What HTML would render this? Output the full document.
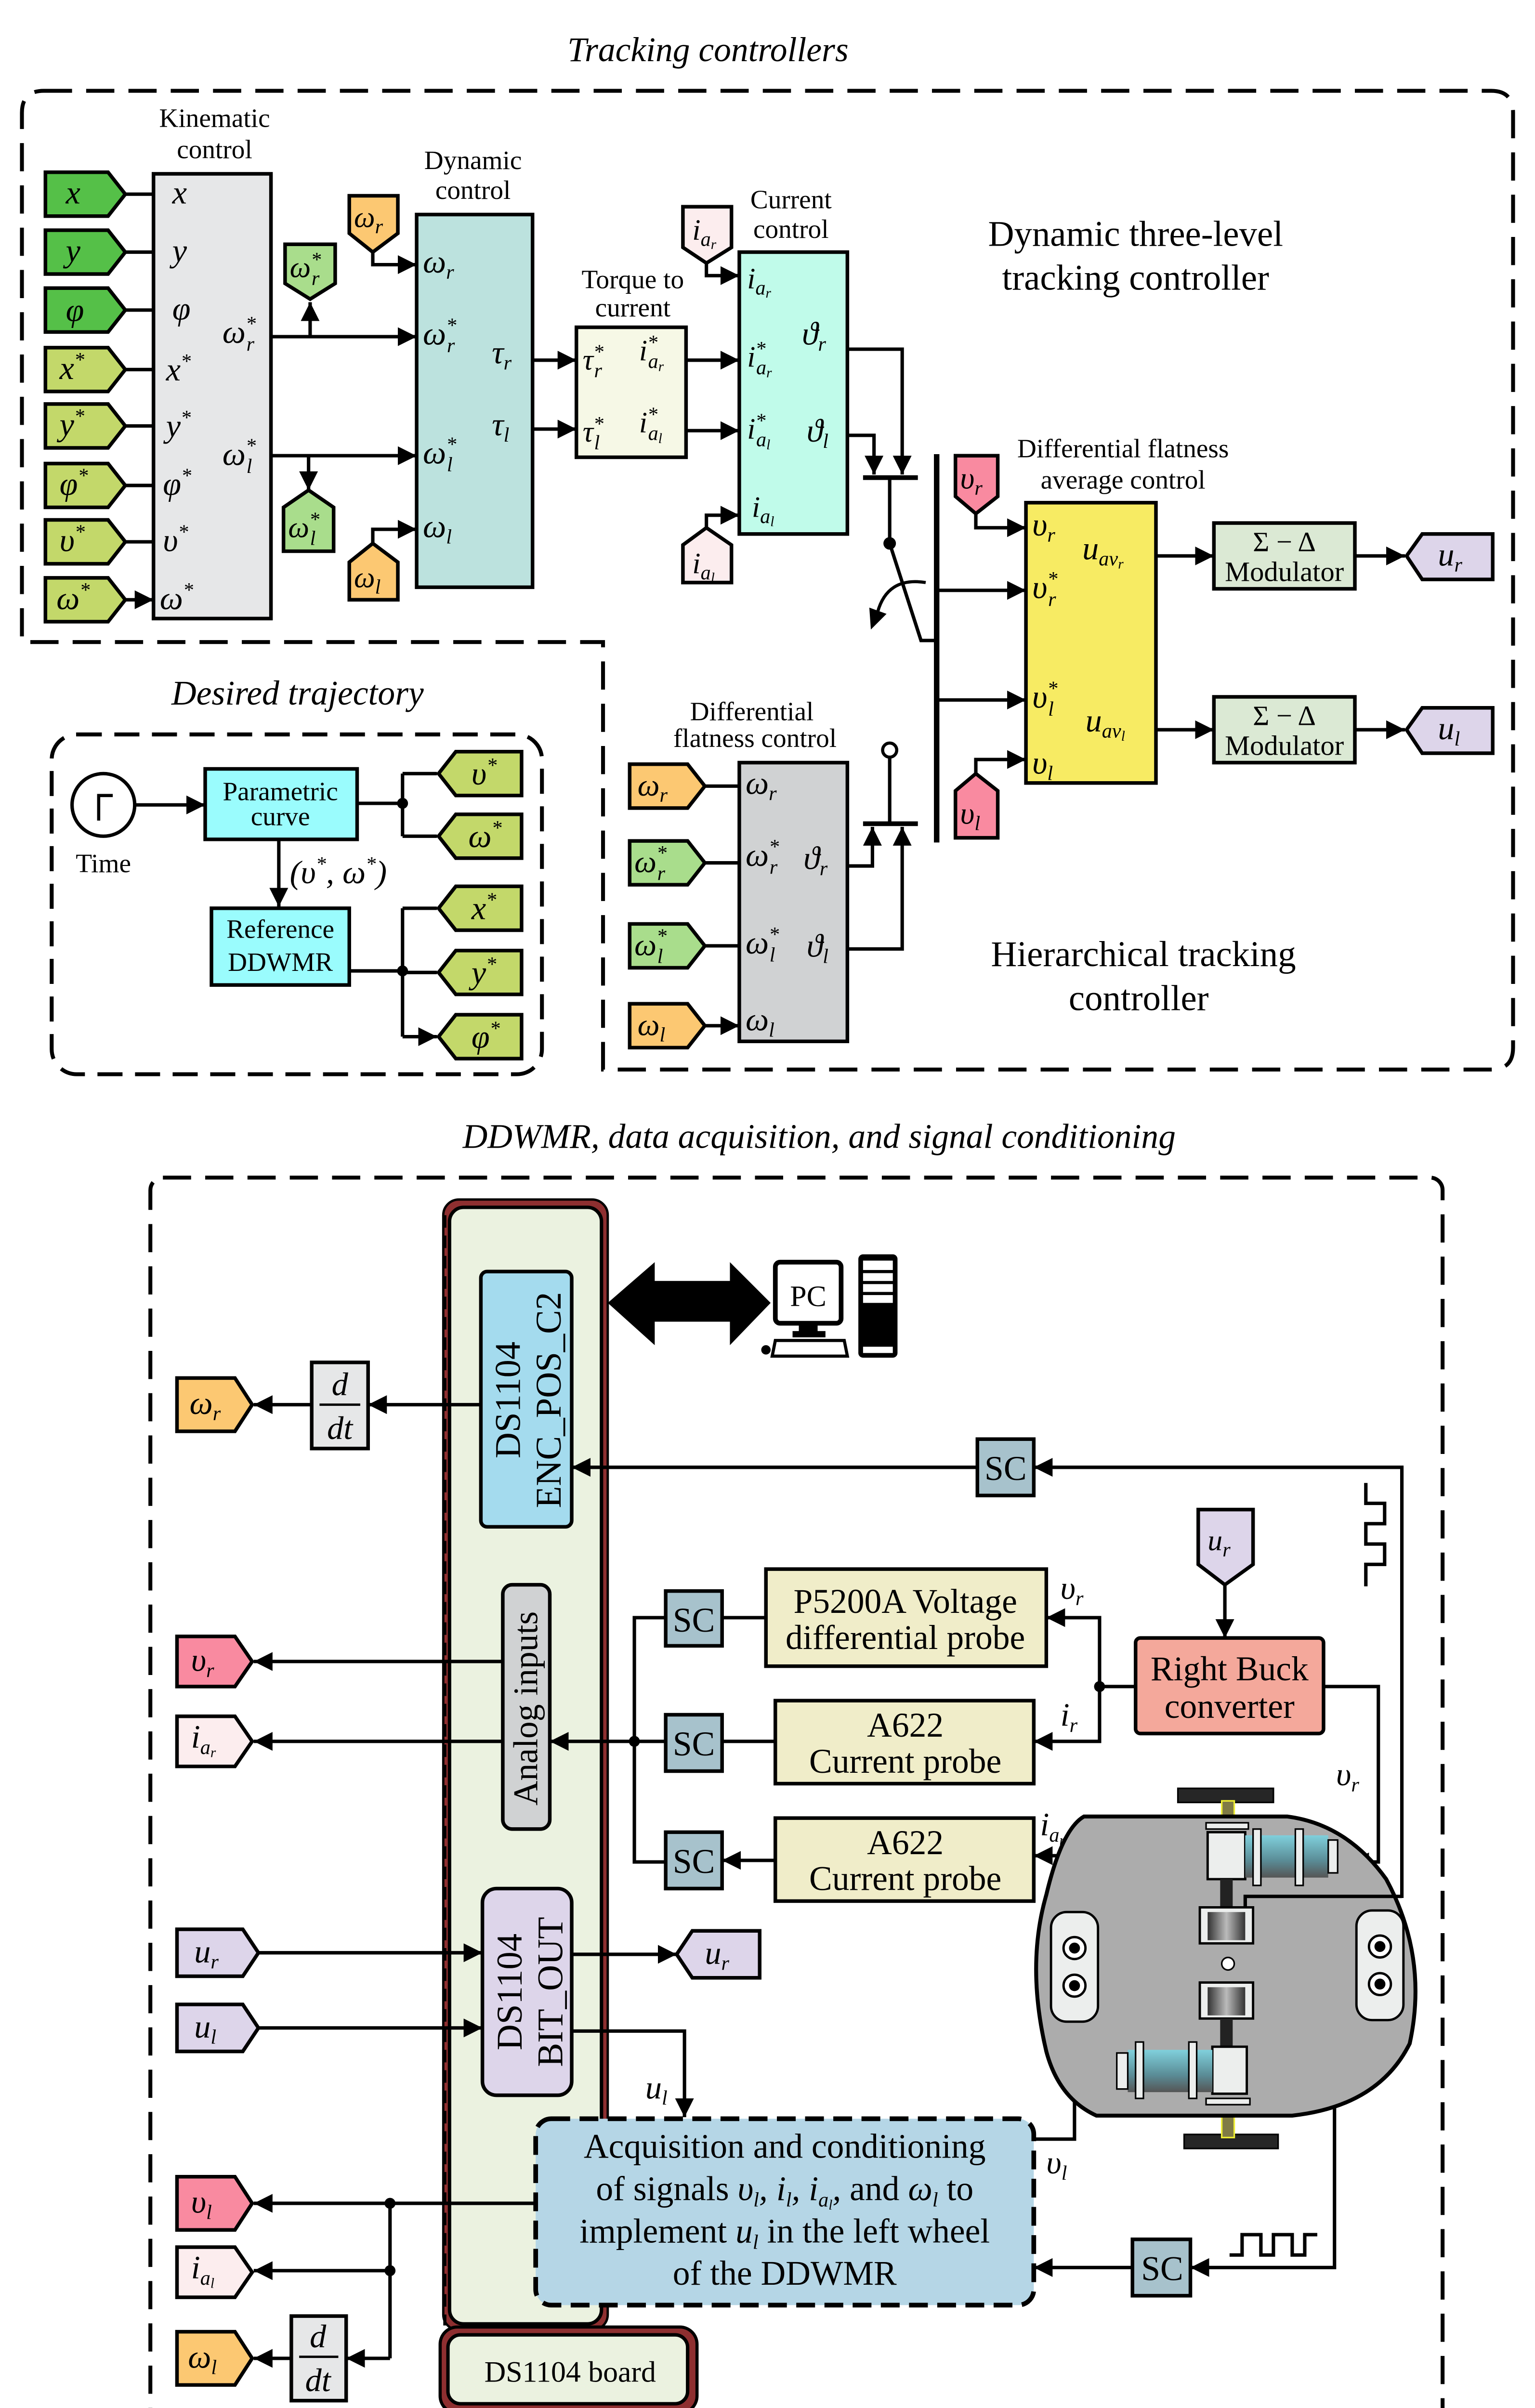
<!DOCTYPE html>
<html><head><meta charset="utf-8"><style>
html,body{margin:0;padding:0;background:#fff;overflow:hidden;width:3187px;height:5079px}
svg{display:block}
.t{font-family:"Liberation Serif",serif}
.m{font-family:"Liberation Serif",serif;font-style:italic;font-size:21px}
.s{font-size:13px}
.L{fill:none;stroke:#000;stroke-width:2.2}
.A{fill:none;stroke:#000;stroke-width:2.2;marker-end:url(#ah)}
.B{stroke:#000;stroke-width:2.3}
</style></head><body>
<svg width="3187" height="5079" viewBox="0 0 980 1562" preserveAspectRatio="none" xmlns="http://www.w3.org/2000/svg" style="font-size:17px">
<defs>
<marker id="ah" markerUnits="userSpaceOnUse" markerWidth="12" markerHeight="12" refX="10" refY="5" orient="auto" viewBox="0 0 10 10"><path d="M0,0L10,5L0,10z" fill="#000"/></marker>
</defs>

<!-- ============ TOP SECTION ============ -->
<text x="452" y="39" class="m" text-anchor="middle" style="font-size:22px">Tracking controllers</text>
<path d="M28,58 H952 Q966,58 966,72 V669 Q966,683 952,683 H385 V410 H14 V72 Q14,58 28,58" fill="none" stroke="#000" stroke-width="2.5" stroke-dasharray="18 9"/>

<!-- Kinematic control -->
<text x="137" y="81" class="t" text-anchor="middle">Kinematic</text>
<text x="137" y="101" class="t" text-anchor="middle">control</text>
<rect x="98" y="111" width="75" height="284" fill="#e6e7e8" class="B"/>
<g class="B">
<polygon points="29,110 69,110 80,124 69,138 29,138" fill="#55c048"/>
<polygon points="29,147 69,147 80,161 69,175 29,175" fill="#55c048"/>
<polygon points="29,184 69,184 80,198 69,212 29,212" fill="#55c048"/>
<polygon points="29,222 69,222 80,236 69,250 29,250" fill="#c3d86a"/>
<polygon points="29,258 69,258 80,272 69,286 29,286" fill="#c3d86a"/>
<polygon points="29,296 69,296 80,310 69,324 29,324" fill="#c3d86a"/>
<polygon points="29,332 69,332 80,346 69,360 29,360" fill="#c3d86a"/>
<polygon points="29,369 69,369 80,383 69,397 29,397" fill="#c3d86a"/>
</g>
<path class="A" d="M80,124H98M80,161H98M80,198H98M80,236H98M80,272H98M80,310H98M80,346H98M80,383H98"/>
<g class="m">
<text x="42" y="130">x</text><text x="42" y="167">y</text><text x="42" y="205">φ</text>
<text x="38" y="242">x<tspan class="s" dy="-8">*</tspan></text>
<text x="38" y="278">y<tspan class="s" dy="-8">*</tspan></text>
<text x="38" y="316">φ<tspan class="s" dy="-8">*</tspan></text>
<text x="38" y="352">υ<tspan class="s" dy="-8">*</tspan></text>
<text x="36" y="389">ω<tspan class="s" dy="-8">*</tspan></text>
<text x="110" y="130">x</text><text x="110" y="167">y</text><text x="110" y="204">φ</text>
<text x="106" y="243">x<tspan class="s" dy="-8">*</tspan></text>
<text x="106" y="279">y<tspan class="s" dy="-8">*</tspan></text>
<text x="104" y="316">φ<tspan class="s" dy="-8">*</tspan></text>
<text x="104" y="352">υ<tspan class="s" dy="-8">*</tspan></text>
<text x="102" y="389">ω<tspan class="s" dy="-8">*</tspan></text>
<text x="142" y="219">ω<tspan class="s" dy="-8">*</tspan><tspan class="s" dx="-6" dy="13">r</tspan></text>
<text x="142" y="297">ω<tspan class="s" dy="-8">*</tspan><tspan class="s" dx="-6" dy="13">l</tspan></text>
</g>
<path class="A" d="M173,215H266"/><path class="A" d="M173,291H266"/>
<path class="A" d="M198,215V193"/><path class="A" d="M197,291V313"/>
<polygon class="B" points="182,156 214,156 214,181 198,191 182,181" fill="#a9dd8c"/>
<polygon class="B" points="181,324 197,313 213,324 213,352 181,352" fill="#a9dd8c"/>
<g class="m" style="font-size:19px">
<text x="185" y="177">ω<tspan class="s" dy="-7">*</tspan><tspan class="s" dx="-6" dy="12">r</tspan></text>
<text x="184" y="343">ω<tspan class="s" dy="-7">*</tspan><tspan class="s" dx="-6" dy="12">l</tspan></text>
</g>

<!-- Dynamic control -->
<text x="302" y="108" class="t" text-anchor="middle">Dynamic</text>
<text x="302" y="127" class="t" text-anchor="middle">control</text>
<rect x="266" y="137" width="74" height="238" fill="#bce2de" class="B"/>
<polygon class="B" points="223,125 254,125 254,149 238,161 223,149" fill="#fcc872"/>
<polygon class="B" points="223,359 238,347 254,359 254,383 223,383" fill="#fcc872"/>
<path class="A" d="M238,161V169H266"/><path class="A" d="M238,347V338H266"/>
<text x="226" y="145" class="m" style="font-size:19px">ω<tspan class="s" dy="4">r</tspan></text>
<text x="226" y="375" class="m" style="font-size:19px">ω<tspan class="s" dy="4">l</tspan></text>
<g class="m">
<text x="270" y="174">ω<tspan class="s" dy="4">r</tspan></text>
<text x="270" y="220">ω<tspan class="s" dy="-8">*</tspan><tspan class="s" dx="-6" dy="13">r</tspan></text>
<text x="270" y="296">ω<tspan class="s" dy="-8">*</tspan><tspan class="s" dx="-6" dy="13">l</tspan></text>
<text x="270" y="343">ω<tspan class="s" dy="4">l</tspan></text>
<text x="314" y="232">τ<tspan class="s" dy="4">r</tspan></text>
<text x="314" y="278">τ<tspan class="s" dy="4">l</tspan></text>
</g>
<path class="A" d="M340,230H368"/><path class="A" d="M340,274H368"/>

<!-- Torque to current -->
<text x="404" y="184" class="t" text-anchor="middle">Torque to</text>
<text x="404" y="202" class="t" text-anchor="middle">current</text>
<rect x="368" y="209" width="70" height="83" fill="#f6f8e6" class="B"/>
<g class="m" style="font-size:19px">
<text x="372" y="236">τ<tspan class="s" dy="-7">*</tspan><tspan class="s" dx="-6" dy="12">r</tspan></text>
<text x="408" y="230">i<tspan class="s" dy="-7">*</tspan><tspan class="s" dx="-6" dy="12">a</tspan><tspan font-size="9" dy="2">r</tspan></text>
<text x="372" y="282">τ<tspan class="s" dy="-7">*</tspan><tspan class="s" dx="-6" dy="12">l</tspan></text>
<text x="408" y="276">i<tspan class="s" dy="-7">*</tspan><tspan class="s" dx="-6" dy="12">a</tspan><tspan font-size="9" dy="2">l</tspan></text>
</g>
<path class="A" d="M438,230H472"/><path class="A" d="M438,275H472"/>

<!-- Current control -->
<text x="505" y="133" class="t" text-anchor="middle">Current</text>
<text x="505" y="152" class="t" text-anchor="middle">control</text>
<rect x="472" y="161" width="69" height="180" fill="#c0fbea" class="B"/>
<polygon class="B" points="436,132 467,132 467,158 451,168 436,158" fill="#fcedee"/>
<polygon class="B" points="436,348 451,337 467,348 467,372 436,372" fill="#fcedee"/>
<path class="A" d="M451,168V176H472"/><path class="A" d="M451,337V329H472"/>
<g class="m" style="font-size:19px">
<text x="442" y="153">i<tspan class="s" dy="4">a</tspan><tspan font-size="9" dy="2">r</tspan></text>
<text x="442" y="366">i<tspan class="s" dy="4">a</tspan><tspan font-size="9" dy="2">l</tspan></text>
<text x="477" y="184">i<tspan class="s" dy="4">a</tspan><tspan font-size="9" dy="2">r</tspan></text>
<text x="477" y="234">i<tspan class="s" dy="-7">*</tspan><tspan class="s" dx="-6" dy="12">a</tspan><tspan font-size="9" dy="2">r</tspan></text>
<text x="477" y="280">i<tspan class="s" dy="-7">*</tspan><tspan class="s" dx="-6" dy="12">a</tspan><tspan font-size="9" dy="2">l</tspan></text>
<text x="480" y="330">i<tspan class="s" dy="4">a</tspan><tspan font-size="9" dy="2">l</tspan></text>
</g>
<text x="512" y="220" class="m">ϑ<tspan class="s" dy="4">r</tspan></text>
<text x="515" y="282" class="m">ϑ<tspan class="s" dy="4">l</tspan></text>

<!-- upper switch -->
<path class="A" d="M541,223H576V303"/><path class="A" d="M541,278H558V303"/>
<path d="M551,305H586" stroke="#000" stroke-width="3" fill="none"/>
<path class="L" d="M568,305V347L588,409H598"/>
<circle cx="568" cy="347" r="4" fill="#000"/>
<path d="M591,372 Q566,368 560,392" fill="none" stroke="#000" stroke-width="2"/>
<polygon points="555,388 566,392 556,402" fill="#000"/>
<path d="M598,290V538" stroke="#000" stroke-width="3.5"/>
<path class="A" d="M598,377H655"/><path class="A" d="M598,447H655"/>

<!-- lower switch -->
<path class="A" d="M541,553H557V528"/><path class="A" d="M541,606H576V528"/>
<path d="M551,526H586" stroke="#000" stroke-width="3" fill="none"/>
<path class="L" d="M568,526V484"/>
<circle cx="568" cy="479" r="4.5" fill="#fff" stroke="#000" stroke-width="2"/>

<!-- DF average control -->
<text x="717" y="292" class="t" text-anchor="middle">Differential flatness</text>
<text x="717" y="312" class="t" text-anchor="middle">average control</text>
<rect x="655" y="321" width="83" height="179" fill="#f7eb63" class="B"/>
<polygon class="B" points="610,291 637,291 637,317 623,328 610,317" fill="#f98aa0"/>
<polygon class="B" points="610,505 623,494 637,505 637,535 610,535" fill="#f98aa0"/>
<path class="A" d="M623,328V337H655"/><path class="A" d="M623,494V485H655"/>
<text x="613" y="312" class="m" style="font-size:20px">υ<tspan class="s" dy="4">r</tspan></text>
<text x="613" y="526" class="m" style="font-size:20px">υ<tspan class="s" dy="4">l</tspan></text>
<g class="m">
<text x="659" y="342">υ<tspan class="s" dy="4">r</tspan></text>
<text x="659" y="382">υ<tspan class="s" dy="-8">*</tspan><tspan class="s" dx="-6" dy="13">r</tspan></text>
<text x="659" y="452">υ<tspan class="s" dy="-8">*</tspan><tspan class="s" dx="-6" dy="13">l</tspan></text>
<text x="659" y="494">υ<tspan class="s" dy="4">l</tspan></text>
<text x="691" y="357">u<tspan class="s" dy="4">av</tspan><tspan font-size="9" dy="2">r</tspan></text>
<text x="693" y="467">u<tspan class="s" dy="4">av</tspan><tspan font-size="9" dy="2">l</tspan></text>
</g>
<path class="A" d="M738,355H775"/><path class="A" d="M738,466H775"/>
<rect x="775" y="334" width="90" height="42" fill="#dbe9d4" class="B"/>
<rect x="775" y="445" width="90" height="42" fill="#dbe9d4" class="B"/>
<g class="t" text-anchor="middle" style="font-size:18px">
<text x="820" y="352">Σ − Δ</text><text x="820" y="371">Modulator</text>
<text x="820" y="463">Σ − Δ</text><text x="820" y="482">Modulator</text>
</g>
<path class="A" d="M865,355H897"/><path class="A" d="M865,466H897"/>
<polygon class="B" points="898,355 908,341 953,341 953,370 908,370" fill="#ddd5ea"/>
<polygon class="B" points="898,466 908,452 953,452 953,481 908,481" fill="#ddd5ea"/>
<text x="918" y="361" class="m">u<tspan class="s" dy="4">r</tspan></text>
<text x="918" y="472" class="m">u<tspan class="s" dy="4">l</tspan></text>

<g class="t" text-anchor="middle" style="font-size:23px">
<text x="725" y="157">Dynamic three-level</text>
<text x="725" y="185">tracking controller</text>
<text x="730" y="617">Hierarchical tracking</text>
<text x="727" y="645">controller</text>
</g>

<!-- DF control -->
<text x="480" y="460" class="t" text-anchor="middle">Differential</text>
<text x="482" y="477" class="t" text-anchor="middle">flatness control</text>
<rect x="472" y="487" width="69" height="178" fill="#d0d2d3" class="B"/>
<g class="B">
<polygon points="402,488 439,488 450,502 439,516 402,516" fill="#fcc872"/>
<polygon points="402,537 439,537 450,551 439,565 402,565" fill="#a9dd8c"/>
<polygon points="402,590 439,590 450,604 439,618 402,618" fill="#a9dd8c"/>
<polygon points="402,641 439,641 450,655 439,669 402,669" fill="#fcc872"/>
</g>
<path class="A" d="M450,502H472M450,551H472M450,604H472M450,655H472"/>
<g class="m" style="font-size:20px">
<text x="407" y="508">ω<tspan class="s" dy="4">r</tspan></text>
<text x="405" y="557">ω<tspan class="s" dy="-8">*</tspan><tspan class="s" dx="-6" dy="13">r</tspan></text>
<text x="405" y="610">ω<tspan class="s" dy="-8">*</tspan><tspan class="s" dx="-6" dy="13">l</tspan></text>
<text x="407" y="661">ω<tspan class="s" dy="4">l</tspan></text>
</g>
<g class="m">
<text x="476" y="507">ω<tspan class="s" dy="4">r</tspan></text>
<text x="476" y="553">ω<tspan class="s" dy="-8">*</tspan><tspan class="s" dx="-6" dy="13">r</tspan></text>
<text x="476" y="609">ω<tspan class="s" dy="-8">*</tspan><tspan class="s" dx="-6" dy="13">l</tspan></text>
<text x="476" y="658">ω<tspan class="s" dy="4">l</tspan></text>
<text x="513" y="555">ϑ<tspan class="s" dy="4">r</tspan></text>
<text x="515" y="611">ϑ<tspan class="s" dy="4">l</tspan></text>
</g>

<!-- Desired trajectory -->
<text x="190" y="450" class="m" text-anchor="middle" style="font-size:22px">Desired trajectory</text>
<rect x="33" y="469" width="313" height="217" rx="16" fill="none" stroke="#000" stroke-width="2.5" stroke-dasharray="16 8"/>
<circle cx="66" cy="514" r="20" fill="#fff" stroke="#000" stroke-width="2.2"/>
<path d="M63,524V508H72" fill="none" stroke="#000" stroke-width="2"/>
<text x="66" y="557" class="t" text-anchor="middle">Time</text>
<path class="A" d="M86,514H131"/>
<rect x="131" y="491" width="97" height="45" fill="#9afcfd" class="B"/>
<text x="179" y="511" class="t" text-anchor="middle">Parametric</text>
<text x="179" y="527" class="t" text-anchor="middle">curve</text>
<path class="A" d="M178,536V579"/>
<text x="185" y="564" class="m">(υ<tspan class="s" dy="-8">*</tspan><tspan dy="8">, ω</tspan><tspan class="s" dy="-8">*</tspan><tspan dy="8">)</tspan></text>
<rect x="135" y="580" width="88" height="49" fill="#9afcfd" class="B"/>
<text x="179" y="599" class="t" text-anchor="middle">Reference</text>
<text x="179" y="620" class="t" text-anchor="middle">DDWMR</text>
<path class="L" d="M228,513H257M257,494V534M223,620H257M257,580V662"/>
<circle cx="257" cy="513" r="3.5"/><circle cx="257" cy="620" r="3.5"/>
<path class="A" d="M257,494H279M257,534H279M257,580H279M257,621H279M257,662H279"/>
<g class="B" fill="#c3d86a">
<polygon points="280,494 291,480 333,480 333,508 291,508"/>
<polygon points="280,534 291,520 333,520 333,548 291,548"/>
<polygon points="280,580 291,566 333,566 333,594 291,594"/>
<polygon points="280,621 291,607 333,607 333,635 291,635"/>
<polygon points="280,662 291,648 333,648 333,676 291,676"/>
</g>
<g class="m">
<text x="301" y="501">υ<tspan class="s" dy="-8">*</tspan></text>
<text x="299" y="541">ω<tspan class="s" dy="-8">*</tspan></text>
<text x="301" y="587">x<tspan class="s" dy="-8">*</tspan></text>
<text x="301" y="628">y<tspan class="s" dy="-8">*</tspan></text>
<text x="301" y="669">φ<tspan class="s" dy="-8">*</tspan></text>
</g>

<!-- ============ BOTTOM SECTION ============ -->
<text x="523" y="733" class="m" text-anchor="middle" style="font-size:22px">DDWMR, data acquisition, and signal conditioning</text>
<rect x="96" y="752" width="825" height="801" rx="8" fill="none" stroke="#000" stroke-width="2.5" stroke-dasharray="18 9"/>

<!-- board -->
<rect x="283" y="766" width="105" height="722" rx="10" fill="#8e2f30" stroke="#000" stroke-width="1.5"/>
<rect x="287" y="771" width="97" height="713" rx="9" fill="#ebf2e0" stroke="#000" stroke-width="2.2"/>
<line x1="284" y1="776" x2="284" y2="1485" stroke="#000" stroke-width="2" stroke-dasharray="8 5"/>
<rect x="281" y="1486" width="164" height="55" rx="11" fill="#8e2f30" stroke="#000" stroke-width="2"/>
<rect x="286" y="1491" width="153" height="44" rx="8" fill="#ebf2e0" stroke="#000" stroke-width="2.2"/>
<text x="364" y="1521" class="t" text-anchor="middle" style="font-size:19px">DS1104 board</text>

<rect x="307" y="812" width="58" height="163" rx="4" fill="#a4dbee" class="B"/>
<g class="t" text-anchor="middle" style="font-size:23px">
<text transform="translate(332,894) rotate(-90)">DS1104</text>
<text transform="translate(358,894) rotate(-90)">ENC_POS_C2</text>
</g>
<rect x="321" y="1012" width="30" height="156" rx="6" fill="#d0d2d3" class="B"/>
<text transform="translate(343,1091) rotate(-90)" class="t" text-anchor="middle" style="font-size:22px">Analog inputs</text>
<rect x="308" y="1206" width="57" height="132" rx="9" fill="#ddd5ea" class="B"/>
<g class="t" text-anchor="middle" style="font-size:23px">
<text transform="translate(333,1272) rotate(-90)">DS1104</text>
<text transform="translate(359,1272) rotate(-90)">BIT_OUT</text>
</g>

<!-- PC -->
<polygon points="388,832 418,806 418,818 466,818 466,806 492,832 466,859 466,844 418,844 418,859" fill="#000"/>
<rect x="495" y="806" width="42" height="39" rx="3" fill="#fff" stroke="#000" stroke-width="3"/>
<text x="516" y="834" class="t" text-anchor="middle" style="font-size:19px">PC</text>
<rect x="510" y="845" width="12" height="6"/><rect x="506" y="850" width="21" height="4"/>
<polygon points="495,856 539,856 541,866 493,866" fill="#fff" stroke="#000" stroke-width="2"/>
<ellipse cx="489" cy="862" rx="3" ry="3"/>
<rect x="548" y="801" width="25" height="66" rx="3"/>
<rect x="551" y="805" width="19" height="6" fill="#fff"/><rect x="551" y="813" width="19" height="5" fill="#fff"/><rect x="551" y="820" width="19" height="5" fill="#fff"/><rect x="551" y="827" width="19" height="5" fill="#fff"/><rect x="551" y="860" width="19" height="4" fill="#fff"/>

<!-- omega r / ddt -->
<rect x="199" y="870" width="36" height="55" fill="#e6e7e8" class="B"/>
<text x="217" y="891" class="m" text-anchor="middle">d</text>
<line x1="204" y1="897" x2="230" y2="897" stroke="#000" stroke-width="1.5"/>
<text x="217" y="919" class="m" text-anchor="middle">dt</text>
<path class="A" d="M307,897H235"/><path class="A" d="M199,897H162"/>
<polygon class="B" points="113,880 150,880 161,897 150,914 113,914" fill="#fcc872"/>
<text x="121" y="903" class="m">ω<tspan class="s" dy="4">r</tspan></text>

<!-- SC encoder -->
<rect x="624" y="919" width="36" height="36" fill="#a7c2cc" class="B"/>
<text x="642" y="945" class="t" text-anchor="middle" style="font-size:22px">SC</text>
<path class="A" d="M624,937H365"/>
<path class="A" d="M895,1212V937H660"/>
<path class="L" d="M872,947V960H884V973H872V986H884V999H872V1013"/>

<!-- u_r and buck -->
<polygon class="B" points="765,964 800,964 800,999 782,1012 765,999" fill="#ddd5ea"/>
<text x="771" y="990" class="m" style="font-size:19px">u<tspan class="s" dy="4">r</tspan></text>
<path class="A" d="M782,1012V1046"/>
<rect x="725" y="1046" width="120" height="61" rx="3" fill="#f4a89b" class="B"/>
<g class="t" text-anchor="middle" style="font-size:22px">
<text x="785" y="1073">Right Buck</text>
<text x="785" y="1097">converter</text>
</g>
<path class="L" d="M725,1077H702"/><circle cx="702" cy="1077" r="3.5"/>
<path class="A" d="M702,1077V1033H668"/><path class="A" d="M702,1077V1112H660"/>
<text x="677" y="1021" class="m">υ<tspan class="s" dy="4">r</tspan></text>
<text x="677" y="1102" class="m">i<tspan class="s" dy="4">r</tspan></text>
<path class="A" d="M845,1077H880V1189H862"/>
<text x="853" y="1140" class="m">υ<tspan class="s" dy="4">r</tspan></text>

<!-- probes -->
<rect x="489" y="1002" width="179" height="62" fill="#f0edc9" class="B"/>
<rect x="495" y="1086" width="165" height="53" fill="#f0edc9" class="B"/>
<rect x="495" y="1161" width="165" height="53" fill="#f0edc9" class="B"/>
<g class="t" text-anchor="middle" style="font-size:22px">
<text x="578" y="1030">P5200A Voltage</text>
<text x="578" y="1053">differential probe</text>
<text x="578" y="1109">A622</text>
<text x="578" y="1132">Current probe</text>
<text x="578" y="1184">A622</text>
<text x="578" y="1207">Current probe</text>
</g>
<g class="B" fill="#a7c2cc">
<rect x="425" y="1016" width="36" height="35"/><rect x="425" y="1095" width="36" height="36"/><rect x="425" y="1170" width="36" height="36"/>
</g>
<g class="t" text-anchor="middle" style="font-size:22px">
<text x="443" y="1042">SC</text><text x="443" y="1121">SC</text><text x="443" y="1196">SC</text>
</g>
<path class="A" d="M489,1033H461M495,1112H461M495,1188H461"/>
<path class="L" d="M425,1033H405V1189H425M425,1112H405"/>
<circle cx="405" cy="1112" r="3.5"/>
<path class="A" d="M405,1112H351"/>
<path class="A" d="M321,1061H162"/><path class="A" d="M321,1112H162"/>
<polygon class="B" points="113,1045 150,1045 161,1061 150,1077 113,1077" fill="#f98aa0"/>
<polygon class="B" points="113,1096 150,1096 161,1112 150,1128 113,1128" fill="#fcedee"/>
<text x="122" y="1067" class="m">υ<tspan class="s" dy="4">r</tspan></text>
<text x="122" y="1116" class="m">i<tspan class="s" dy="4">a</tspan><tspan font-size="9" dy="2">r</tspan></text>
<path class="A" d="M780,1185H660"/>
<text x="664" y="1172" class="m">i<tspan class="s" dy="4">a</tspan><tspan font-size="9" dy="2">r</tspan></text>

<!-- u_r, u_l to BIT_OUT -->
<polygon class="B" points="113,1232 155,1232 165,1247 155,1262 113,1262" fill="#ddd5ea"/>
<polygon class="B" points="113,1280 155,1280 165,1295 155,1310 113,1310" fill="#ddd5ea"/>
<text x="124" y="1253" class="m">u<tspan class="s" dy="4">r</tspan></text>
<text x="124" y="1301" class="m">u<tspan class="s" dy="4">l</tspan></text>
<path class="A" d="M165,1247H308"/><path class="A" d="M165,1295H308"/>
<path class="A" d="M365,1248H432"/>
<polygon class="B" points="432,1248 442,1233 485,1233 485,1263 442,1263" fill="#ddd5ea"/>
<text x="450" y="1254" class="m">u<tspan class="s" dy="4">r</tspan></text>
<path class="A" d="M365,1297H437V1352"/>
<text x="412" y="1340" class="m">u<tspan class="s" dy="4">l</tspan></text>

<!-- acquisition -->
<rect x="342" y="1353" width="318" height="119" rx="10" fill="#b5d6e6" stroke="#000" stroke-width="3" stroke-dasharray="12 6"/>
<g class="t" text-anchor="middle" style="font-size:22px">
<text x="501" y="1378">Acquisition and conditioning</text>
<text x="501" y="1405">of signals <tspan font-style="italic">υ<tspan class="s" dy="4">l</tspan><tspan dy="-4">, i</tspan><tspan class="s" dy="4">l</tspan><tspan dy="-4">, i</tspan><tspan class="s" dy="4">a</tspan><tspan font-size="9" dy="2">l</tspan><tspan dy="-6">,</tspan></tspan> and <tspan font-style="italic">ω<tspan class="s" dy="4">l</tspan></tspan><tspan dy="-4"> to</tspan></text>
<text x="501" y="1432">implement <tspan font-style="italic">u<tspan class="s" dy="4">l</tspan></tspan><tspan dy="-4"> in the left wheel</tspan></text>
<text x="501" y="1459">of the DDWMR</text>
</g>
<path class="A" d="M660,1366H686V1319H715"/>
<text x="668" y="1388" class="m">υ<tspan class="s" dy="4">l</tspan></text>
<rect x="723" y="1430" width="37" height="36" fill="#a7c2cc" class="B"/>
<text x="742" y="1456" class="t" text-anchor="middle" style="font-size:22px">SC</text>
<path class="A" d="M723,1448H660"/>
<path class="A" d="M796,1289V1297H852V1448H760"/>
<path class="L" d="M785,1440H793V1427H805V1440H813V1427H825V1440H833V1427H841"/>

<!-- left outputs -->
<path class="A" d="M342,1407H162"/>
<circle cx="249" cy="1407" r="3.5"/><circle cx="249" cy="1450" r="3.5"/>
<path class="L" d="M249,1407V1506"/>
<path class="A" d="M249,1450H162"/><path class="A" d="M249,1506H221"/>
<rect x="186" y="1479" width="35" height="54" fill="#e6e7e8" class="B"/>
<text x="203" y="1499" class="m" text-anchor="middle">d</text>
<line x1="191" y1="1505" x2="216" y2="1505" stroke="#000" stroke-width="1.5"/>
<text x="203" y="1527" class="m" text-anchor="middle">dt</text>
<path class="A" d="M186,1506H162"/>
<polygon class="B" points="113,1390 150,1390 161,1407 150,1424 113,1424" fill="#f98aa0"/>
<polygon class="B" points="113,1435 150,1435 161,1451 150,1467 113,1467" fill="#fcedee"/>
<polygon class="B" points="113,1489 150,1489 161,1506 150,1523 113,1523" fill="#fcc872"/>
<text x="122" y="1413" class="m">υ<tspan class="s" dy="4">l</tspan></text>
<text x="122" y="1455" class="m">i<tspan class="s" dy="4">a</tspan><tspan font-size="9" dy="2">l</tspan></text>
<text x="120" y="1512" class="m">ω<tspan class="s" dy="4">l</tspan></text>

<!-- robot -->
<rect x="752" y="1142" width="61" height="9" fill="#262626" stroke="#000"/>
<rect x="756" y="1363" width="60" height="9" fill="#262626" stroke="#000"/>
<rect x="780" y="1150" width="8" height="24" fill="#807b45" stroke="#ee3" stroke-width="1"/>
<rect x="780" y="1345" width="8" height="20" fill="#807b45" stroke="#ee3" stroke-width="1"/>
<path d="M692,1160 H822 Q860,1165 885,1200 Q912,1250 900,1305 Q880,1345 825,1351 H700 Q676,1340 668,1310 Q655,1255 668,1210 Q678,1168 692,1160Z" fill="#acacac" stroke="#000" stroke-width="2.5"/>
<defs><linearGradient id="mg" x1="0" y1="0" x2="0" y2="1"><stop offset="0" stop-color="#80d0dc"/><stop offset="0.6" stop-color="#5a8c96"/><stop offset="1" stop-color="#555"/></linearGradient>
<linearGradient id="bg" x1="0" y1="0" x2="1" y2="0"><stop offset="0" stop-color="#333"/><stop offset="0.5" stop-color="#bbb"/><stop offset="1" stop-color="#333"/></linearGradient></defs>
<rect x="771" y="1170" width="24" height="30" fill="#eceeed" stroke="#000" stroke-width="1.5"/>
<rect x="795" y="1172" width="53" height="27" fill="url(#mg)"/>
<rect x="800" y="1168" width="5" height="36" fill="#eceeed" stroke="#000"/>
<rect x="827" y="1168" width="5" height="36" fill="#eceeed" stroke="#000"/>
<rect x="848" y="1175" width="6" height="21" fill="#eceeed" stroke="#000"/>
<rect x="770" y="1164" width="27" height="4" fill="#eceeed" stroke="#000"/>
<rect x="779" y="1200" width="8" height="18" fill="#222"/>
<rect x="766" y="1218" width="34" height="23" fill="#eceeed" stroke="#000" stroke-width="1.5"/>
<rect x="771" y="1221" width="24" height="18" fill="url(#bg)"/>
<circle cx="784" cy="1254" r="4" fill="#fff" stroke="#000"/>
<rect x="766" y="1266" width="34" height="23" fill="#eceeed" stroke="#000" stroke-width="1.5"/>
<rect x="771" y="1269" width="24" height="18" fill="url(#bg)"/>
<rect x="779" y="1289" width="8" height="18" fill="#222"/>
<rect x="774" y="1307" width="22" height="30" fill="#eceeed" stroke="#000" stroke-width="1.5"/>
<rect x="720" y="1309" width="54" height="27" fill="url(#mg)"/>
<rect x="725" y="1304" width="5" height="36" fill="#eceeed" stroke="#000"/>
<rect x="759" y="1304" width="5" height="36" fill="#eceeed" stroke="#000"/>
<rect x="713" y="1311" width="7" height="23" fill="#eceeed" stroke="#000"/>
<rect x="770" y="1340" width="28" height="4" fill="#eceeed" stroke="#000"/>
<rect x="671" y="1221" width="30" height="70" rx="10" fill="#eceeed" stroke="#000" stroke-width="1.5"/>
<circle cx="686" cy="1244" r="7" fill="#fff" stroke="#000" stroke-width="1.5"/><circle cx="686" cy="1244" r="3.5"/>
<circle cx="686" cy="1268" r="7" fill="#fff" stroke="#000" stroke-width="1.5"/><circle cx="686" cy="1268" r="3.5"/>
<rect x="866" y="1220" width="30" height="70" rx="10" fill="#eceeed" stroke="#000" stroke-width="1.5"/>
<circle cx="881" cy="1243" r="7" fill="#fff" stroke="#000" stroke-width="1.5"/><circle cx="881" cy="1243" r="3.5"/>
<circle cx="881" cy="1267" r="7" fill="#fff" stroke="#000" stroke-width="1.5"/><circle cx="881" cy="1267" r="3.5"/>
<path class="L" d="M795,1218V1211H895"/>
</svg>
</body></html>
